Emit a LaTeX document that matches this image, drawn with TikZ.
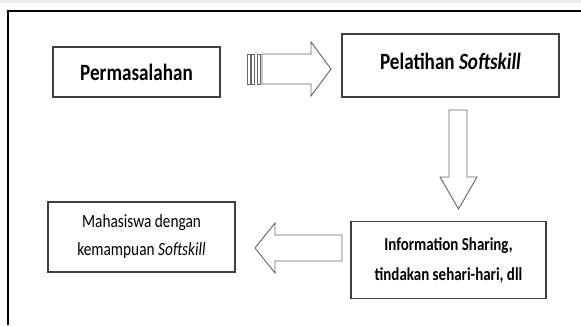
\documentclass[tikz,border=0pt]{standalone}
\usepackage{fontspec}
\setmainfont{Carlito}[FakeStretch=0.82]
\usepackage{tikz}
\usetikzlibrary{positioning}

\begin{document}
\begin{tikzpicture}[x=0.75pt,y=-0.75pt,
        box/.style={draw=black!75,line width=0.8pt,fill=white,inner sep=0pt,align=center},
        blockarrow/.style={draw=black!60,line width=0.7pt,fill=white,line join=miter},
        bigtext/.style={font=\fontsize{17.5}{20}\selectfont\bfseries},
        smalltext/.style={font=\fontsize{14}{21}\selectfont}]
\useasboundingbox (0,0) rectangle (581,325);
\fill[black!8] (0,0) rectangle (581,3);
\draw[line width=1.5pt] (8,325) -- (8,11) -- (581,11);

        \node[box,bigtext,minimum width=125.25pt,minimum height=37.5pt] (masalah) at (136.5,72) {Permasalahan};
        \node[box,bigtext,minimum width=162.75pt,minimum height=47.25pt,text depth=6pt] (pelatihan) at (450.5,65.5) {Pelatihan \textit{Softskill}};
        \node[box,minimum width=146.25pt,minimum height=57.75pt,font=\fontsize{13.7}{22.5}\selectfont\bfseries] (sharing) at (448.5,260) {Information Sharing,\\tindakan sehari-hari, dll};
        \node[box,smalltext,minimum width=140.25pt,minimum height=52.5pt] (mahasiswa) at (141.5,237) {Mahasiswa dengan\\kemampuan \textit{Softskill}};

% striped arrow
\draw[blockarrow] (247,54) rectangle (250,84);
\draw[blockarrow] (251,54) rectangle (254,84);
\draw[blockarrow] (257,54) rectangle (260,84);
\draw[blockarrow] (262,54) -- (311,54) -- (311,42) -- (331,69) -- (311,96) -- (311,84) -- (262,84) -- cycle;
% down arrow
\draw[blockarrow] (449,110) -- (467,110) -- (467,177) -- (477,177) -- (458.5,209) -- (440,177) -- (449,177) -- cycle;
% left arrow
\draw[blockarrow] (342,235) -- (342,261) -- (275,261) -- (275,273) -- (255,248) -- (275,223) -- (275,235) -- cycle;
    \end{tikzpicture}
\end{document}
